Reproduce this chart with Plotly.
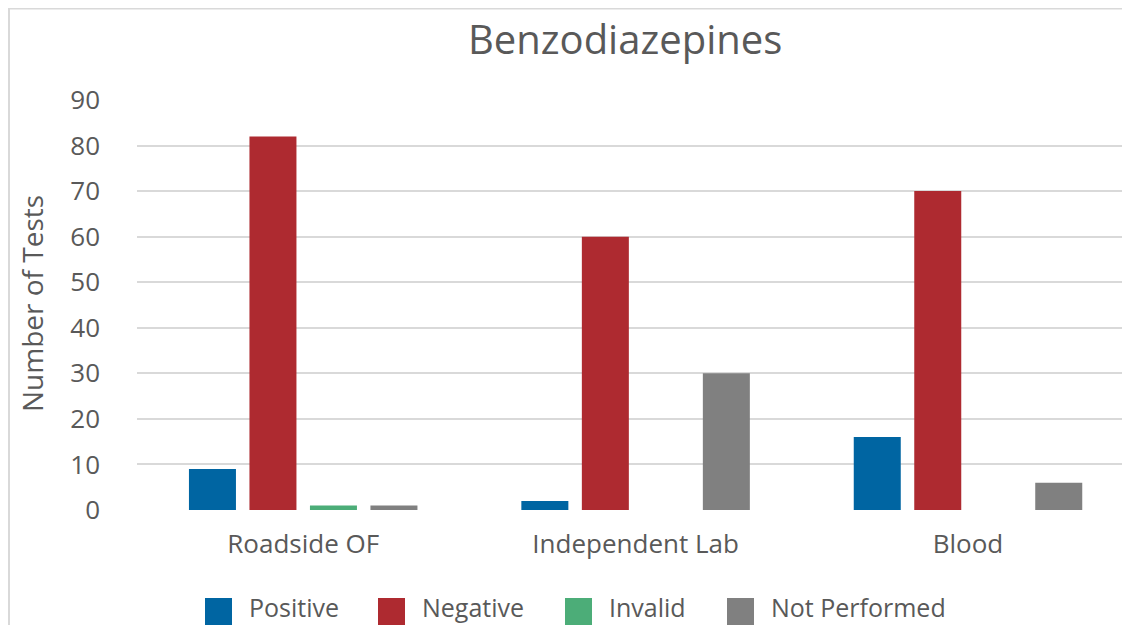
import plotly.graph_objects as go

categories = ["Roadside OF", "Independent Lab", "Blood"]
series_names = ["Positive", "Negative", "Invalid", "Not Performed"]
positive = [9, 2, 16]
negative = [82, 60, 70]
invalid = [1, 0, 0]
not_performed = [1, 30, 6]
y_ticks = [0, 10, 20, 30, 40, 50, 60, 70, 80, 90]

colors = ["#0065a2", "#ae2a30", "#4cad78", "#808080"]
values = [positive, negative, invalid, not_performed]

# page body adds an 8px offset; work in window pixels and convert
OFF = 8
W, H = 1130, 625
L = 137 - OFF          # plot left (figure px)
T = 100 - OFF          # plot top
BOT = 510 - OFF        # plot bottom
R = 0
B = H - BOT
pw, ph = W - L - R, BOT - T
font_family = "Open Sans"
txt = "#595959"
band_px = 332.4

fig = go.Figure()
for name, vals, col in zip(series_names, values, colors):
    fig.add_trace(go.Bar(x=categories, y=vals, name=name, marker_color=col,
                         marker_line_width=0, showlegend=False))

def px_x(p):  # window px -> paper
    return (p - OFF - L) / pw

def px_y(p):
    return (BOT - (p - OFF)) / ph

shapes = []
annotations = []
# outer chart border (left and top edges visible)
shapes.append(dict(type="line", xref="paper", yref="paper",
                   x0=px_x(9), x1=px_x(9), y0=px_y(9), y1=px_y(700),
                   line=dict(color="#d9d9d9", width=2)))
shapes.append(dict(type="line", xref="paper", yref="paper",
                   x0=px_x(8), x1=px_x(1200), y0=px_y(8.5), y1=px_y(8.5),
                   line=dict(color="#d9d9d9", width=2)))

# custom legend
leg_x = [205, 378, 565, 727]
for name, col, lx in zip(series_names, colors, leg_x):
    shapes.append(dict(type="rect", xref="paper", yref="paper",
                       x0=px_x(lx), x1=px_x(lx + 27), y0=px_y(626), y1=px_y(598),
                       line=dict(width=0), fillcolor=col))
    annotations.append(dict(text=name, xref="paper", yref="paper",
                            x=px_x(lx + 42), y=px_y(607), xanchor="left", yanchor="middle",
                            showarrow=False, font=dict(family=font_family, size=25, color=txt)))

# y axis title
annotations.append(dict(text="Number of Tests", xref="paper", yref="paper",
                        x=px_x(32), y=px_y(304), xanchor="center", yanchor="middle",
                        textangle=-90, showarrow=False,
                        font=dict(family=font_family, size=28, color=txt)))

# title
annotations.append(dict(text="Benzodiazepines", xref="paper", yref="paper",
                        x=px_x(625), y=px_y(38), xanchor="center", yanchor="middle",
                        showarrow=False, font=dict(family=font_family, size=40, color=txt)))

fig.update_layout(
    width=W, height=H,
    margin=dict(l=L, r=R, t=T, b=B, autoexpand=False),
    paper_bgcolor="white", plot_bgcolor="white",
    barmode="group", bargap=0.272, bargroupgap=0.223,
    xaxis=dict(range=[-0.5, -0.5 + pw / band_px], showgrid=False, showline=False, zeroline=False,
               ticks="", ticklabelstandoff=16,
               tickfont=dict(family=font_family, size=26, color=txt)),
    yaxis=dict(range=[0, 90], tickvals=y_ticks, showgrid=True, gridcolor="#d9d9d9", gridwidth=2,
               zeroline=False, showline=False, ticks="", ticklabelstandoff=36,
               tickfont=dict(family=font_family, size=26, color=txt)),
    shapes=shapes, annotations=annotations,
    showlegend=False,
)

fig.write_html("out.html")
